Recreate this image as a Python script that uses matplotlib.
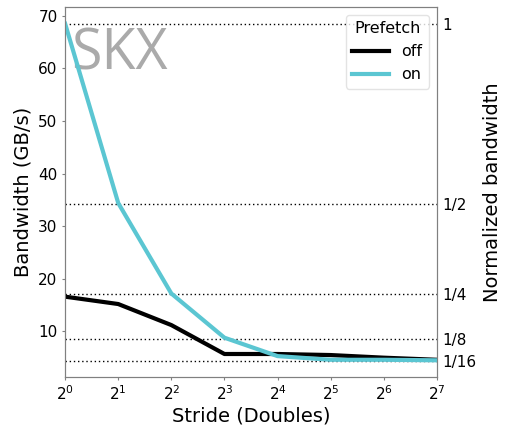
import matplotlib
matplotlib.use("Agg")
from matplotlib import pyplot as plt
from matplotlib.ticker import FixedLocator

# Stride in doubles (log2 axis)
stride = [1, 2, 4, 8, 16, 32, 64, 128]

# Bandwidth in GB/s
bw_off = [16.6, 15.2, 11.2, 5.7, 5.7, 5.5, 5.0, 4.6]
bw_on = [68.5, 34.4, 17.2, 8.8, 5.3, 4.6, 4.6, 4.5]

peak = 68.5
norm_ticks = [1, 1/2, 1/4, 1/8, 1/16]
norm_labels = ["1", "1/2", "1/4", "1/8", "1/16"]

GREY = "#808080"
CYAN = "#5bc6d2"


def main() -> None:
    fig = plt.figure(figsize=(5.05, 4.32), dpi=100)
    ax = fig.add_axes([0.129, 0.127, 0.736, 0.857])

    for frac in norm_ticks:
        ax.axhline(peak * frac, color="black", ls=(0, (1, 2)), lw=1.0, zorder=1)

    ax.plot(stride, bw_off, color="black", lw=3, label="off", zorder=3)
    ax.plot(stride, bw_on, color=CYAN, lw=3, label="on", zorder=4)

    ax.set_xscale("log", base=2)
    ax.set_xlim(1, 128)
    ylo, yhi = 1.3, 71.7
    ax.set_ylim(ylo, yhi)
    ax.set_yticks([10, 20, 30, 40, 50, 60, 70])
    ax.set_xticks(stride)
    ax.set_xticklabels([f"$2^{{{i}}}$" for i in range(len(stride))])
    ax.tick_params(labelsize=11, color=GREY, length=2.5, pad=3)
    ax.set_xlabel("Stride (Doubles)", fontsize=14, labelpad=2)
    ax.set_ylabel("Bandwidth (GB/s)", fontsize=14, labelpad=4)

    ax.text(0.015, 0.83, "SKX", transform=ax.transAxes, fontsize=40,
            family=["Open Sans", "DejaVu Sans"],
            color="#aaaaaa", va="baseline", ha="left", zorder=2)

    leg = ax.legend(title="Prefetch", loc="upper right", fontsize=11.5,
                    title_fontsize=11.5, handlelength=2.3,
                    borderaxespad=0.5)
    leg.get_frame().set_edgecolor("#dddddd")

    ax2 = ax.twinx()
    ax2.set_ylim(ylo / peak, yhi / peak)
    ax2.yaxis.set_major_locator(FixedLocator(norm_ticks))
    ax2.set_yticklabels(norm_labels)
    ax2.tick_params(labelsize=11, color=GREY, length=0, pad=4)
    ax2.set_ylabel("Normalized bandwidth", fontsize=14, labelpad=5)

    for a in (ax, ax2):
        for sp in a.spines.values():
            sp.set_color(GREY)

    fig.savefig("out.png", dpi=100)


if __name__ == "__main__":
    main()
